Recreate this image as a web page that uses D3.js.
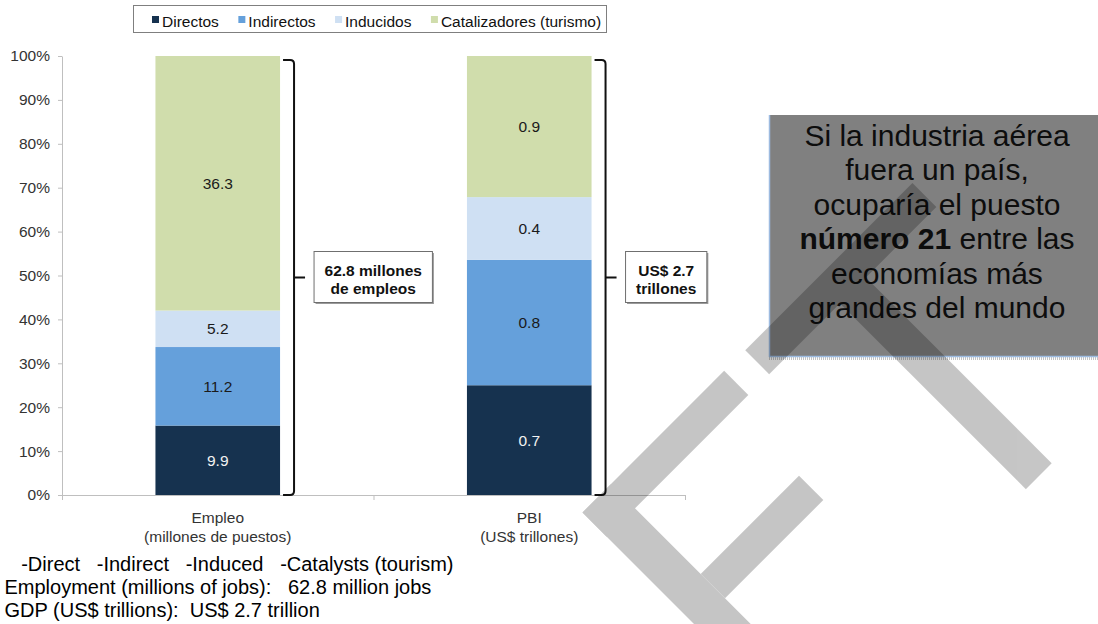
<!DOCTYPE html>
<html>
<head>
<meta charset="utf-8">
<script src="https://cdn.jsdelivr.net/npm/d3@7"></script>
<style>
  body { margin: 0; background: #fff; }
  svg { display: block; }
  svg text { font-family: "Liberation Sans", Arial, sans-serif; }
</style>
</head>
<body>
<svg id="chart" width="1098" height="624"></svg>
<script>
// ---- data ----
const categories = ["Empleo", "PBI"];
const categorySubtitles = ["(millones de puestos)", "(US$ trillones)"];
const seriesNames = ["Directos", "Indirectos", "Inducidos", "Catalizadores (turismo)"];
const empleoValues = [9.9, 11.2, 5.2, 36.3];   // millones de puestos
const pbiValues = [0.7, 0.8, 0.4, 0.9];        // US$ trillones
const totalLabels = [["62.8 millones", "de empleos"], ["US$ 2.7", "trillones"]];
const yTickValues = [0, 0.1, 0.2, 0.3, 0.4, 0.5, 0.6, 0.7, 0.8, 0.9, 1.0];
const calloutLines = [
  [{ t: "Si la industria aérea" }],
  [{ t: "fuera un país," }],
  [{ t: "ocuparía el puesto" }],
  [{ t: "número 21", b: true }, { t: " entre las" }],
  [{ t: "economías más" }],
  [{ t: "grandes del mundo" }]
];
const translationLines = [
  "   -Direct   -Indirect   -Induced   -Catalysts (tourism)",
  "Employment (millions of jobs):   62.8 million jobs",
  "GDP (US$ trillions):  US$ 2.7 trillion"
];

// ---- styling ----
const FONT = "'Liberation Sans', Arial, sans-serif";
const colors = ["#16324f", "#65a0db", "#cfe0f3", "#d0ddac"];
const labelColors = ["#f2f2f2", "#1a1a1a", "#1a1a1a", "#1a1a1a"];
const svg = d3.select("#chart");

const plot = { left: 62, right: 685, top: 56, bottom: 495 };

// table built from the arrays: shares of each column's total
const valueSets = [empleoValues, pbiValues];
const table = categories.map((c, i) => {
  const vals = valueSets[i];
  const sum = d3.sum(vals);
  const row = { category: c };
  seriesNames.forEach((s, j) => { row[s] = vals[j] / sum; row[s + "_raw"] = vals[j]; });
  return row;
});

const x = d3.scaleBand().domain(categories)
  .range([plot.left, plot.right]).paddingInner(0.6).paddingOuter(0.3);
const y = d3.scaleLinear().domain([0, 1]).range([plot.bottom, plot.top]);

// ---- y axis ----
const yAxis = svg.append("g")
  .attr("transform", `translate(${plot.left},0)`)
  .call(d3.axisLeft(y).tickValues(yTickValues).tickFormat(d3.format(".0%"))
    .tickSize(4).tickPadding(8).tickSizeOuter(0));
yAxis.attr("font-family", FONT);
yAxis.select(".domain").attr("stroke", "#bfbfbf");
yAxis.selectAll(".tick line").attr("stroke", "#bfbfbf");
yAxis.selectAll(".tick text").attr("fill", "#333").style("font-size", "15.5px")
  .style("font-family", FONT);

// ---- x axis (ticks between categories) ----
const xEdges = d3.scaleLinear().domain([0, categories.length]).range([plot.left, plot.right]);
const xAxis = svg.append("g")
  .attr("transform", `translate(0,${plot.bottom})`)
  .call(d3.axisBottom(xEdges).tickValues(d3.range(categories.length + 1))
    .tickFormat("").tickSize(5).tickSizeOuter(0));
xAxis.select(".domain").attr("stroke", "#bfbfbf");
xAxis.selectAll(".tick line").attr("stroke", "#bfbfbf");

// category labels
categories.forEach((c, i) => {
  const cx = x(c) + x.bandwidth() / 2;
  const t = svg.append("text").attr("text-anchor", "middle").attr("fill", "#333")
    .style("font-size", "15.5px");
  t.append("tspan").attr("x", cx).attr("y", 523).text(c);
  t.append("tspan").attr("x", cx).attr("y", 541.5).text(categorySubtitles[i]);
});

// ---- stacked bars ----
const stack = d3.stack().keys(seriesNames)(table);
const layers = svg.append("g").selectAll("g").data(stack).join("g")
  .attr("fill", (d, i) => colors[i]);
layers.selectAll("rect").data(d => d).join("rect")
  .attr("x", d => x(d.data.category))
  .attr("width", x.bandwidth())
  .attr("y", d => y(d[1]))
  .attr("height", d => y(d[0]) - y(d[1]));

// value labels
stack.forEach((layer, i) => {
  svg.append("g").selectAll("text").data(layer).join("text")
    .attr("x", d => x(d.data.category) + x.bandwidth() / 2)
    .attr("y", d => (y(d[0]) + y(d[1])) / 2)
    .attr("dy", "0.36em")
    .attr("text-anchor", "middle")
    .attr("fill", labelColors[i])
    .style("font-size", "15.5px")
    .text(d => d3.format(".1f")(d.data[layer.key + "_raw"]));
});

// ---- brackets with total boxes ----
categories.forEach((c, i) => {
  const bx = x(c) + x.bandwidth();
  const top = y(1) + 4, bot = y(0), mid = (top + bot) / 2;
  const xs = bx + 3, xv = bx + 14, xt = bx + 25, r = 4;
  const p = d3.path();
  p.moveTo(xs, top);
  p.lineTo(xv - r, top);
  p.quadraticCurveTo(xv, top, xv, top + r);
  p.lineTo(xv, bot - r);
  p.quadraticCurveTo(xv, bot, xv - r, bot);
  p.lineTo(xs, bot);
  p.moveTo(xv, mid);
  p.lineTo(xt, mid);
  svg.append("path").attr("d", p.toString()).attr("fill", "none")
    .attr("stroke", "#111").attr("stroke-width", 2);

  const g = svg.append("g");
  const txt = g.append("text").attr("text-anchor", "middle").attr("fill", "#111")
    .style("font-size", "15.5px").style("font-weight", "bold");
  const t1 = txt.append("tspan").attr("y", mid - 2).text(totalLabels[i][0]);
  const t2 = txt.append("tspan").attr("y", mid + 16).text(totalLabels[i][1]);
  const w = Math.max(t1.node().getComputedTextLength(), t2.node().getComputedTextLength()) + 21;
  const boxX = bx + 34, boxY = mid - 26, boxH = 51;
  g.insert("rect", "text").attr("x", boxX + 1.5).attr("y", boxY + 1.5)
    .attr("width", w).attr("height", boxH).attr("fill", "#9a9a9a");
  g.insert("rect", "text").attr("x", boxX).attr("y", boxY)
    .attr("width", w).attr("height", boxH).attr("fill", "#fff")
    .attr("stroke", "#6f6f6f").attr("stroke-width", 1);
  t1.attr("x", boxX + w / 2);
  t2.attr("x", boxX + w / 2);
});

// ---- legend ----
const legend = svg.append("g");
legend.append("rect").attr("x", 133.5).attr("y", 5.5).attr("width", 473).attr("height", 27)
  .attr("fill", "#fff").attr("stroke", "#7f7f7f");
let lx = 152;
seriesNames.forEach((s, i) => {
  legend.append("rect").attr("x", lx).attr("y", 16).attr("width", 7).attr("height", 7)
    .attr("fill", colors[i]);
  const t = legend.append("text").attr("x", lx + 10).attr("y", 26.5).attr("fill", "#111")
    .style("font-size", "15.5px").text(s);
  lx += 10 + t.node().getComputedTextLength() + 19.5;
});

// ---- callout box ----
const callout = svg.append("g");
callout.append("rect").attr("x", 769).attr("y", 115).attr("width", 340).attr("height", 242)
  .attr("fill", "#808080");
callout.append("line").attr("x1", 769).attr("x2", 1098).attr("y1", 358.5).attr("y2", 358.5)
  .attr("stroke", "#c4c4c4").attr("stroke-width", 3).attr("stroke-dasharray", "1,1");
callout.append("line").attr("x1", 769.5).attr("x2", 769.5).attr("y1", 115).attr("y2", 357)
  .attr("stroke", "#9dbbe0").attr("stroke-width", 1.5);
callout.append("line").attr("x1", 769).attr("x2", 1098).attr("y1", 356.5).attr("y2", 356.5)
  .attr("stroke", "#9dbbe0").attr("stroke-width", 1.5);
calloutLines.forEach((parts, i) => {
  const t = callout.append("text").attr("x", 937).attr("y", 146 + i * 34.4)
    .attr("text-anchor", "middle").attr("fill", "#0d0d0d").style("font-size", "30px")
    .attr("xml:space", "preserve").style("white-space", "pre");
  parts.forEach(pt => t.append("tspan").style("font-weight", pt.b ? "bold" : "normal").text(pt.t));
});

// ---- translation notes ----
translationLines.forEach((line, i) => {
  svg.append("text").attr("x", 4.5).attr("y", 570.5 + i * 23.2)
    .attr("fill", "#000").style("font-size", "20px").style("white-space", "pre")
    .attr("xml:space", "preserve").text(line);
});

// ---- watermark bands (45° strips given in u = x + y, v = x - y) ----
const bands = [
  { u: [1095.5, 1143.3], v: [395, 729.4] },
  { u: [1120, 1515], v: [536.7, 588.4] },
  { u: [1095, 1143.3], v: [70, 353.3] },
  { u: [1095, 1900], v: [70, 126.7] },
  { u: [1274.7, 1323.3], v: [126.7, 323.3] }
];
const wm = svg.append("g").attr("opacity", 0.224).attr("fill", "#000");
wm.selectAll("polygon").data(bands).join("polygon")
  .attr("points", b => [[b.u[0], b.v[0]], [b.u[0], b.v[1]], [b.u[1], b.v[1]], [b.u[1], b.v[0]]]
    .map(([u, v]) => [(u + v) / 2, (u - v) / 2].join(",")).join(" "));
</script>
</body>
</html>
